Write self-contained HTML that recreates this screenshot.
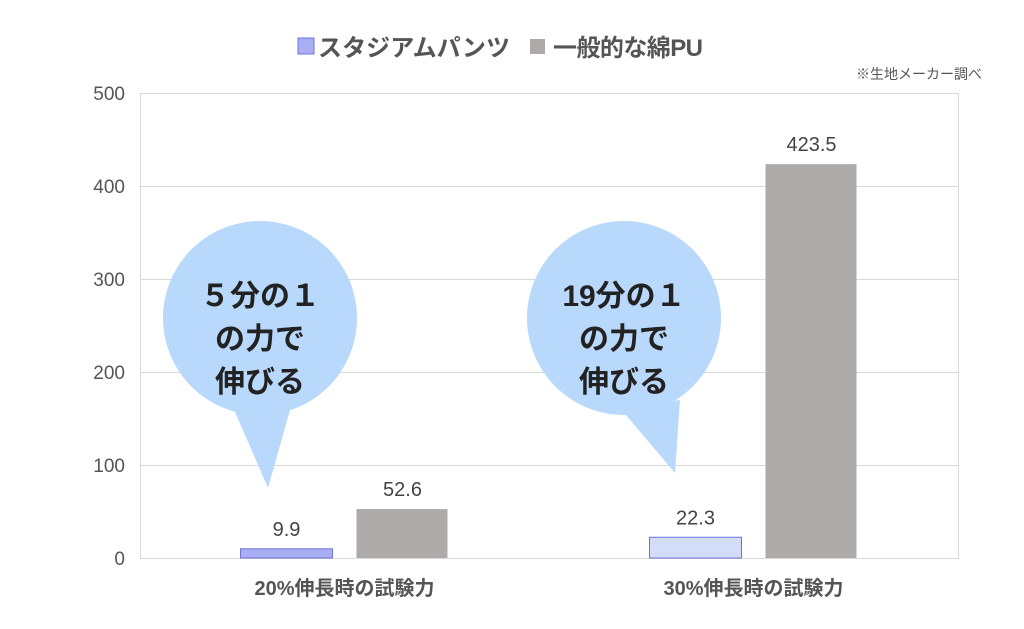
<!DOCTYPE html>
<html><head><meta charset="utf-8"><style>
body{margin:0;background:#fff;}
svg text{font-family:"Liberation Sans","Noto Sans CJK JP",sans-serif;}
</style></head><body>
<svg id="chart" width="1024" height="624">
<g>
<rect x="298" y="38" width="16" height="16" fill="#a9adf3" stroke="#6f73d8"/>
<text x="318" y="56" font-size="24" font-weight="bold" fill="#555" textLength="192">スタジアムパンツ</text>
<rect x="530" y="39" width="15" height="15" fill="#aeaaa9"/>
<text x="553" y="56" font-size="24" font-weight="bold" fill="#555" textLength="150">一般的な綿PU</text>
</g>
<text x="982" y="79" font-size="14" fill="#555" text-anchor="end">※生地メーカー調べ</text>
<rect x="140.5" y="93.5" width="818" height="465" fill="none" stroke="#d9d9d9"/>
<g id="grid"></g><g id="bars"></g>
<g>
<circle cx="260" cy="318" r="97" fill="#b9d9fc"/>
<polygon points="232,405 290,410 268,488" fill="#b9d9fc"/>
<text x="260" y="306" font-size="30" font-weight="bold" fill="#222" text-anchor="middle">５分の１</text>
<text x="260" y="349" font-size="30" font-weight="bold" fill="#222" text-anchor="middle">の力で</text>
<text x="260" y="392" font-size="30" font-weight="bold" fill="#222" text-anchor="middle">伸びる</text>
</g>
<g>
<circle cx="624" cy="318" r="97" fill="#b9d9fc"/>
<polygon points="620,408 680,400 675,473" fill="#b9d9fc"/>
<text x="624" y="306" font-size="30" font-weight="bold" fill="#222" text-anchor="middle">19分の１</text>
<text x="624" y="349" font-size="30" font-weight="bold" fill="#222" text-anchor="middle">の力で</text>
<text x="624" y="392" font-size="30" font-weight="bold" fill="#222" text-anchor="middle">伸びる</text>
</g>
</svg>
<script>
const categories=["20%伸長時の試験力","30%伸長時の試験力"];
const stadiumValues=[9.9,22.3];
const cottonValues=[52.6,423.5];
const yTicks=[0,100,200,300,400,500];
const NS="http://www.w3.org/2000/svg";
const y0=558,y1=93,x0=140,x1=958;
const y=v=>y0-(v/500)*(y0-y1);
const bandW=(x1-x0)/categories.length;
const grid=document.getElementById('grid'),bars=document.getElementById('bars');
function mk(tag,attrs,parent,txt){const e=document.createElementNS(NS,tag);for(const k in attrs)e.setAttribute(k,attrs[k]);if(txt!==undefined)e.textContent=txt;parent.appendChild(e);return e;}
yTicks.forEach(t=>{
 if(t>0&&t<500){const l=mk('line',{x1:x0,x2:x1,y1:y(t)+0.5,y2:y(t)+0.5,stroke:'#d9d9d9'},grid);
 
 }
 const tx=mk('text',{x:125,y:y(t)+7,'font-size':19,fill:'#555','text-anchor':'end'},grid,String(t));
 
 
});
categories.forEach((c,i)=>{
 const cx=x0+bandW*(i+0.5);
 const bw=92;
 const sx=cx-104, gx=cx+12;
 const colors=i===0?['#a9adf3','#6f73d8']:['#d3dcf9','#6f73d8'];
 const b1=mk('rect',{x:sx,y:y(stadiumValues[i]),width:bw,height:y0-y(stadiumValues[i]),fill:colors[0],stroke:colors[1]},bars);
 
 
 const b2=mk('rect',{x:gx,y:y(cottonValues[i]),width:bw-1,height:y0-y(cottonValues[i]),fill:'#aeaaa9'},bars);
 
 
 const l1=mk('text',{x:sx+bw/2,y:y(stadiumValues[i])-13,'font-size':20,fill:'#444','text-anchor':'middle'},bars,String(stadiumValues[i]));
 
 
 const l2=mk('text',{x:gx+bw/2,y:y(cottonValues[i])-13,'font-size':20,fill:'#444','text-anchor':'middle'},bars,String(cottonValues[i]));
 
 
 const xl=mk('text',{x:cx,y:595,'font-size':20,'font-weight':'bold',fill:'#555','text-anchor':'middle'},bars,c);
 
 
});
</script>
</body></html>
